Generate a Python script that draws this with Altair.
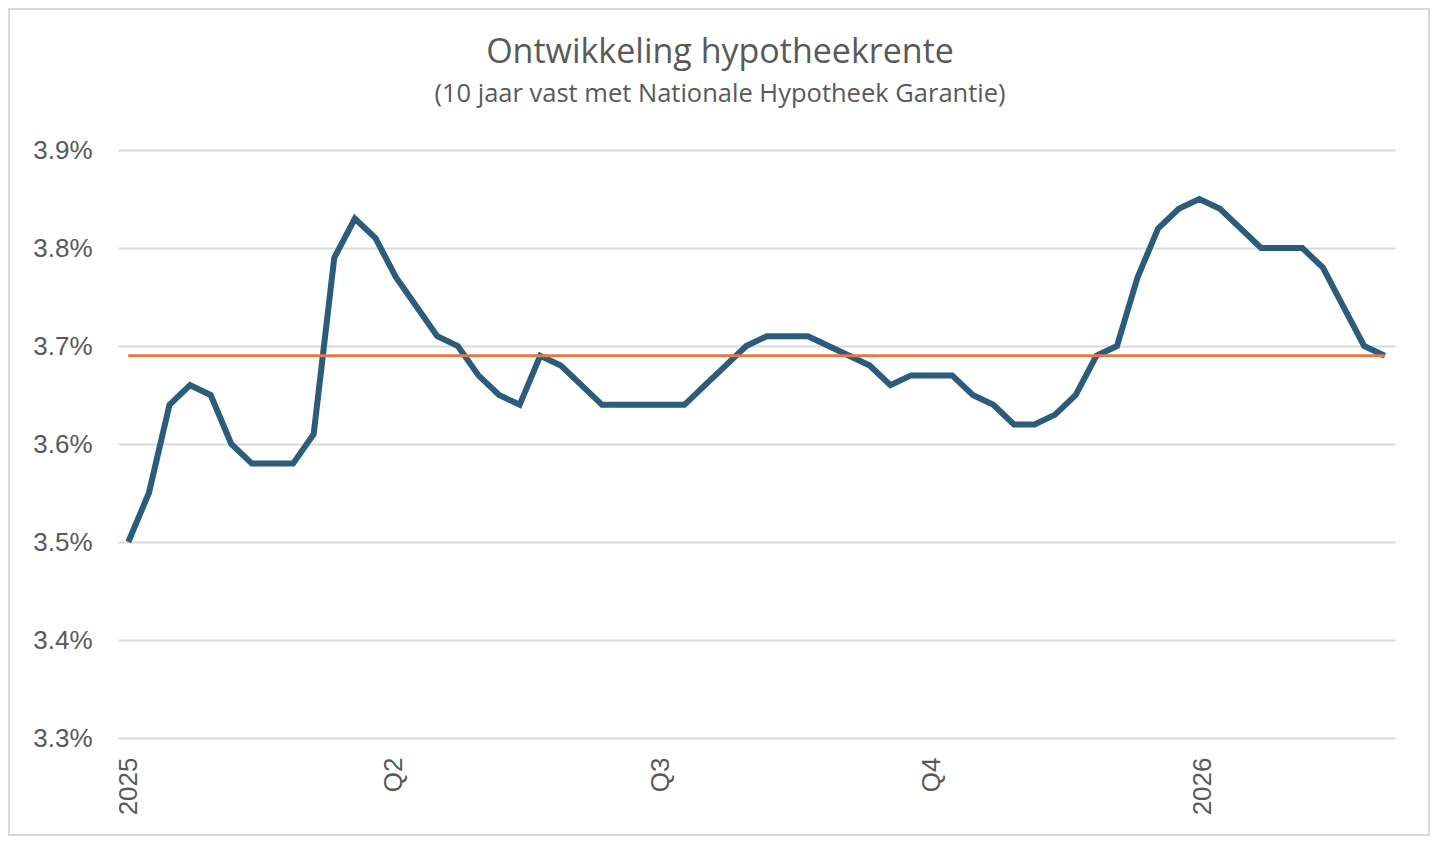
import altair as alt
import pandas as pd

rates = [3.50, 3.55, 3.64, 3.66, 3.65, 3.60, 3.58, 3.58, 3.58, 3.61,
         3.79, 3.83, 3.81, 3.77, 3.74, 3.71, 3.70, 3.67, 3.65, 3.64,
         3.69, 3.68, 3.66, 3.64, 3.64, 3.64, 3.64, 3.64, 3.66, 3.68,
         3.70, 3.71, 3.71, 3.71, 3.70, 3.69, 3.68, 3.66, 3.67, 3.67,
         3.67, 3.65, 3.64, 3.62, 3.62, 3.63, 3.65, 3.69, 3.70, 3.77,
         3.82, 3.84, 3.85, 3.84, 3.82, 3.80, 3.80, 3.80, 3.78, 3.74,
         3.70, 3.69]
reference_rate = 3.69
dates = pd.date_range("2025-01-01", periods=len(rates), freq="7D")
date_strings = [d.strftime("%Y-%m-%dT00:00:00") for d in dates]
tick_dates = ["2025-01-01", "2025-04-01", "2025-07-01", "2025-10-01", "2026-01-01"]
y_ticks = [3.3, 3.4, 3.5, 3.6, 3.7, 3.8, 3.9]
title_text = "Ontwikkeling hypotheekrente"
subtitle_text = "(10 jaar vast met Nationale Hypotheek Garantie)"

df = pd.DataFrame({"datum": date_strings, "rente": rates,
                   "referentie": [reference_rate] * len(rates)})

FONT = "Liberation Sans"
TFONT = "Open Sans"
GRAY = "#595959"

x_enc = alt.X(
    "datum:T",
    title=None,
    scale=alt.Scale(domain=[alt.DateTime(year=2024, month=12, date=28, hours=12),
                            alt.DateTime(year=2026, month=3, date=7, hours=12)],
                    nice=False),
    axis=alt.Axis(
        values=[alt.DateTime(year=int(t[:4]), month=int(t[5:7]), date=1) for t in tick_dates],
        labelExpr="month(datum.value) == 0 ? timeFormat(datum.value, '%Y') : 'Q' + (floor(month(datum.value) / 3) + 1)",
        labelAngle=-90, labelAlign="right", labelBaseline="middle",
        labelFont=FONT, labelFontSize=26, labelColor=GRAY, labelPadding=19,
        domain=False, ticks=False, grid=False,
    ),
)

y_scale = alt.Scale(domain=[3.3, 3.9], nice=False, zero=False)
y_axis = alt.Axis(
    values=y_ticks,
    labelExpr="format(datum.value, '.1f') + '%'",
    labelFont=FONT, labelFontSize=26, labelColor=GRAY, labelPadding=26,
    domain=False, ticks=False, grid=True, gridColor="#d9d9d9", gridWidth=2,
)

base = alt.Chart(df)

blue = base.mark_line(color="#2B5C7C", strokeWidth=6, strokeJoin="miter", strokeCap="butt").encode(
    x=x_enc,
    y=alt.Y("rente:Q", title=None, scale=y_scale, axis=y_axis),
)

orange = base.mark_line(color="#E07B45", strokeWidth=3).encode(
    x=x_enc,
    y=alt.Y("referentie:Q", scale=y_scale),
)

one = pd.DataFrame({"a": [0]})

border = alt.Chart(one).mark_rect(
    fill=None, stroke="#d9d9d9", strokeWidth=2
).encode(
    x=alt.value(-109), x2=alt.value(1311),
    y=alt.value(-141), y2=alt.value(685),
)

title = alt.Chart(one).mark_text(
    text=title_text, font=TFONT, fontSize=34, color=GRAY,
    align="center", baseline="middle",
).encode(x=alt.value(602), y=alt.value(-97))

subtitle = alt.Chart(one).mark_text(
    text=subtitle_text, font=TFONT, fontSize=25.5, color=GRAY,
    align="center", baseline="middle",
).encode(x=alt.value(602), y=alt.value(-56))

chart = alt.layer(border, blue, orange, title, subtitle).properties(
    width=1277,
    height=588,
    padding={"left": 110, "top": 142, "right": 35, "bottom": 98},
    autosize=alt.AutoSizeParams(type="none"),
).configure_view(strokeWidth=0)

chart.save("out.html", embed_options={"renderer": "svg", "actions": False})
